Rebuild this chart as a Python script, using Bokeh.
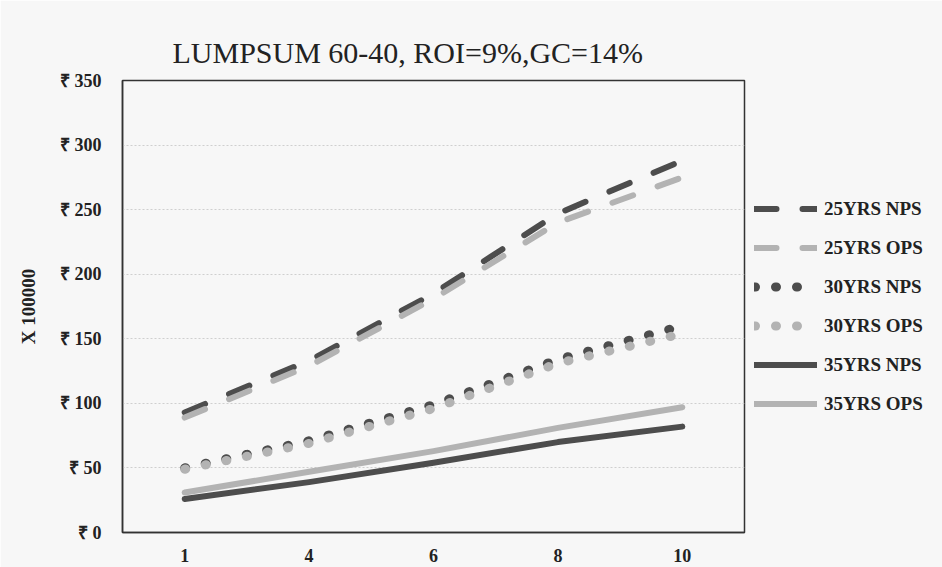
from bokeh.plotting import figure
from bokeh.models import FactorRange, FixedTicker, Legend, LegendItem, Title
from bokeh.embed import file_html
from bokeh.resources import INLINE

# ---- data ----
years = ["1", "4", "6", "8", "10"]
nps25 = [93, 133, 185, 247, 288]
ops25 = [89, 129, 181, 240, 275]
nps30 = [50, 71, 99, 134, 160]
ops30 = [49, 69, 96, 131, 154]
nps35 = [26, 39, 54, 70, 82]
ops35 = [31, 47, 63, 81, 97]
series_names = ["25YRS NPS", "25YRS OPS", "30YRS NPS", "30YRS OPS", "35YRS NPS", "35YRS OPS"]
y_ticks = [0, 50, 100, 150, 200, 250, 300, 350]
y_tick_labels = ["₹ 0", "₹ 50", "₹ 100", "₹ 150", "₹ 200", "₹ 250", "₹ 300", "₹ 350"]
title_text = "LUMPSUM  60-40, ROI=9%,GC=14%"
y_label = "X 100000"

DARK = "#4d4d4d"
LIGHT = "#b3b3b3"
BG = "#f7f7f7"
SERIF = "Liberation Serif"

p = figure(frame_width=622, frame_height=452, x_range=FactorRange(*years), y_range=(0, 350),
           output_backend="svg", toolbar_location=None,
           min_border_left=122, min_border_right=198, min_border_top=80, min_border_bottom=35)
p.background_fill_color = BG
p.border_fill_color = BG
p.outline_line_color = "#333333"
p.outline_line_width = 1.5

p.title = Title(text=title_text, text_font=SERIF, text_font_size="30px",
                text_font_style="normal", text_color="#222222", align="left",
                offset=50, standoff=24)

styles = [
    (nps25, DARK, "22 26", 6),
    (ops25, LIGHT, "22 26", 6),
    (nps30, DARK, "1 20", 9),
    (ops30, LIGHT, "1 20", 9),
    (nps35, DARK, "solid", 6),
    (ops35, LIGHT, "solid", 6),
]
items = []
for name, (vals, col, dash, w) in zip(series_names, styles):
    r = p.line(years, vals, line_color=col, line_width=w, line_dash=dash,
               line_cap="round", line_join="round")
    items.append(LegendItem(label=name, renderers=[r]))

legend = Legend(items=items, location="center_left", orientation="vertical",
                margin=10, padding=0, glyph_width=63, glyph_height=20,
                label_height=20, spacing=17, label_standoff=7,
                label_text_font=SERIF, label_text_font_size="19px",
                label_text_font_style="bold", label_text_color="#222222",
                background_fill_alpha=0, border_line_color=None)
p.add_layout(legend, "right")

p.xgrid.grid_line_color = None
p.ygrid.grid_line_color = "#cfcfcf"
p.ygrid.grid_line_dash = "2 2"
p.ygrid.grid_line_width = 1

p.yaxis.ticker = FixedTicker(ticks=y_ticks)
p.yaxis.major_label_overrides = {t: l for t, l in zip(y_ticks, y_tick_labels)}
p.yaxis.axis_label = y_label
for ax in (p.xaxis[0], p.yaxis[0]):
    ax.major_tick_line_color = None
    ax.minor_tick_line_color = None
    ax.axis_line_color = "#333333"
    ax.axis_line_width = 1.5
    ax.major_label_text_font = SERIF
    ax.major_label_text_font_size = "18px"
    ax.major_label_text_font_style = "bold"
    ax.major_label_text_color = "#222222"
p.yaxis.major_label_standoff = 15
p.xaxis.major_label_standoff = 10
p.yaxis.axis_label_text_font = SERIF
p.yaxis.axis_label_text_font_size = "19px"
p.yaxis.axis_label_text_font_style = "bold"
p.yaxis.axis_label_text_color = "#222222"
p.yaxis.axis_label_standoff = 18

open("out.html", "w").write(file_html(p, INLINE))
